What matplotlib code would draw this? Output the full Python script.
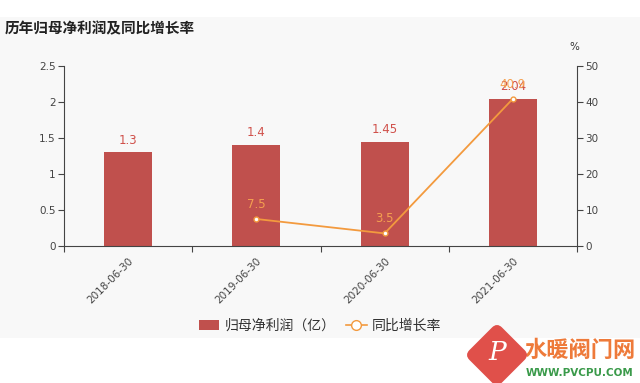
import matplotlib.pyplot as plt
import matplotlib.patches as mpatches
from matplotlib.lines import Line2D
from matplotlib.transforms import Affine2D

plt.rcParams['font.family'] = ['Noto Sans CJK SC', 'DejaVu Sans']

# --- data ---
dates = ['2018-06-30', '2019-06-30', '2020-06-30', '2021-06-30']
profit = [1.3, 1.4, 1.45, 2.04]          # 归母净利润（亿）
growth = [None, 7.5, 3.5, 40.9]          # 同比增长率 %

bar_color = '#c0504d'
line_color = '#f39a3e'
axis_color = '#444444'
num_font = 'DejaVu Sans'

fig = plt.figure(figsize=(6.4, 3.83), dpi=100)
fig.patch.set_facecolor('white')

# light grey panel behind the chart
fig.patches.append(mpatches.Rectangle((0, 1 - 338 / 383), 1, 321 / 383,
                                      transform=fig.transFigure,
                                      facecolor='#f8f8f8', edgecolor='none', zorder=-5))

ax = fig.add_axes([64 / 640, 1 - 246 / 383, 513 / 640, 180 / 383])
ax.set_facecolor('none')
x = list(range(len(dates)))
ax.bar(x, profit, width=0.375, color=bar_color, zorder=2)
for xi, v in zip(x, profit):
    ax.text(xi, v + 0.08, f'{v:g}', ha='center', va='bottom',
            color='#d0504a', fontsize=8.5, family=num_font)

ax.set_xlim(-0.5, len(dates) - 0.5)
ax.set_ylim(0, 2.5)
ax.set_yticks([0, 0.5, 1, 1.5, 2, 2.5])
ax.set_yticklabels(['0', '0.5', '1', '1.5', '2', '2.5'], family=num_font)
ax.set_xticks([i - 0.5 for i in range(len(dates) + 1)])
ax.set_xticklabels([])
ax.set_xticks(x, minor=True)
ax.set_xticklabels(dates, minor=True, rotation=45, ha='right', family=num_font,
                   rotation_mode='anchor', fontsize=7.5, color=axis_color)
ax.tick_params(axis='x', which='minor', length=0, pad=7)
ax.tick_params(axis='x', which='major', length=4, color=axis_color)
ax.tick_params(axis='y', length=4, color=axis_color, labelsize=7.5,
               labelcolor=axis_color, pad=2)
for s in ['top', 'right']:
    ax.spines[s].set_visible(False)
for s in ['left', 'bottom']:
    ax.spines[s].set_color(axis_color)

ax2 = ax.twinx()
ax2.set_ylim(0, 50)
ax2.set_yticks([0, 10, 20, 30, 40, 50])
ax2.set_yticklabels(['0', '10', '20', '30', '40', '50'], family=num_font)
gx = [xi for xi, g in zip(x, growth) if g is not None]
gy = [g for g in growth if g is not None]
ax2.plot(gx, gy, color=line_color, lw=1.3, marker='o', markersize=3.5,
         markerfacecolor='white', markeredgecolor=line_color, zorder=3)
for xi, g in zip(gx, gy):
    ax2.text(xi, g + 2.2, f'{g:g}', ha='center', va='bottom',
             color='#f5a050', fontsize=8.5, family=num_font)
ax2.tick_params(axis='y', length=4, color=axis_color, labelsize=7.5,
                labelcolor=axis_color, pad=2)
for s in ['top', 'left', 'bottom']:
    ax2.spines[s].set_visible(False)
ax2.spines['right'].set_color(axis_color)
ax2.text(0.995, 1.08, '%', transform=ax2.transAxes, ha='center', va='bottom',
         fontsize=7.5, color='#333333', family=num_font)

# title
fig.text(5 / 640, 1 - 28 / 383, '历年归母净利润及同比增长率', ha='left', va='center',
         fontsize=10.5, color='#222222', fontweight='bold')

# legend
handles = [mpatches.FancyBboxPatch((0, 0), 1, 1, boxstyle='round,pad=0.1',
                                   facecolor=bar_color, edgecolor='none'),
           Line2D([0], [0], color=line_color, lw=1.2, marker='o', markersize=7,
                  markerfacecolor='white', markeredgecolor=line_color)]
fig.legend(handles, ['归母净利润（亿）', '同比增长率'], loc='center',
           bbox_to_anchor=(320 / 640, 1 - 326 / 383), ncol=2, frameon=False,
           fontsize=10, handlelength=1.45, handleheight=0.7, columnspacing=0.8,
           handletextpad=0.35, labelcolor='#333333')

# watermark (diamond logo + site name)
cx, cy = 4.97, (383 - 355) / 100
wm = mpatches.FancyBboxPatch((cx - 0.23, cy - 0.23), 0.46, 0.46,
                             boxstyle='round,pad=0,rounding_size=0.07',
                             facecolor='#e0504a', edgecolor='none', zorder=5)
wm.set_transform(Affine2D().rotate_deg_around(cx, cy, 45) + fig.dpi_scale_trans)
fig.patches.append(wm)
fig.text(497 / 640, 1 - 353 / 383, 'P', ha='center', va='center', fontsize=19,
         color='white', fontstyle='italic', family='DejaVu Serif', zorder=6)
fig.text(525 / 640, 1 - 350 / 383, '水暖阀门网', ha='left', va='center',
         fontsize=16, color='#ee7a3a', fontweight='bold')
fig.text(526 / 640, 1 - 373 / 383, 'WWW.PVCPU.COM', ha='left', va='center',
         fontsize=7.5, color='#3a9a4a', fontweight='bold', family=num_font)

fig.savefig('out.png', dpi=100)
